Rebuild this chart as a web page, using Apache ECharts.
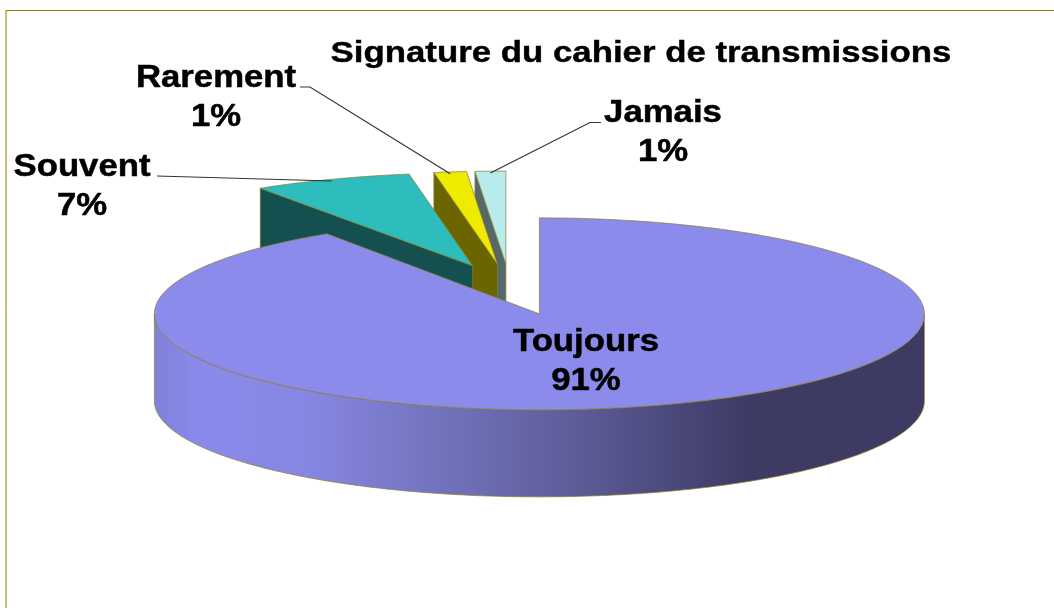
<!DOCTYPE html>
<html>
<head>
<meta charset="utf-8">
<style>
  html, body { margin: 0; padding: 0; background: #fff; }
  #chart { width: 1054px; height: 608px; }
</style>
<script src="https://cdn.jsdelivr.net/npm/echarts@6/dist/echarts.min.js"></script>
</head>
<body>
<div id="chart"></div>
<script>
const chartTitle = 'Signature du cahier de transmissions'
const categories = ['Toujours', 'Souvent', 'Rarement', 'Jamais']
const values = [90.7, 6.66, 1.36, 1.28]

const topColors = ['#8b8bec', '#2dbdbd', '#eeea00', '#b8ecec']
const wallColors = ['#3d3b63', '#155050', '#6b6500', '#55686c']
const labelPositions = [[586, 362], [82, 187], [216, 97.5], [663, 133]]
const leaderStarts = [null, [[157, 176]], [[300, 87], [310, 87]], [[601, 122.5], [590, 122.5]]]

// pie geometry, tilted disc
const cx = 510
const cy = 289.5
const rx = 385
const ry = 96
const smallRy = 93 // the pulled out wedges sit a bit flatter
const depth = 87
const explode = 0.265
const edgeColor = '#8a7d2a'
const fontFamily = '"Liberation Sans", Arial, sans-serif'

const total = values.reduce((a, b) => a + b, 0)
const angles = []
let acc = 0
values.forEach(v => {
  angles.push([acc / total * Math.PI * 2, (acc + v) / total * Math.PI * 2])
  acc += v
})

const rim = (a, ox, oy, h) => [ox + rx * Math.sin(a), oy - h * Math.cos(a)]
const shift = (p, dy) => [p[0], p[1] + dy]

const arcPoints = (a0, a1, ox, oy, h) => {
  const steps = Math.max(2, Math.ceil((a1 - a0) / 0.01))
  const pts = []
  for (let i = 0; i <= steps; i++) pts.push(rim(a0 + (a1 - a0) * i / steps, ox, oy, h))
  return pts
}

const poly = (points, fill) => ({
  type: 'polygon',
  shape: { points },
  style: { fill, stroke: edgeColor, lineWidth: 0.7 }
})

const wallGradient = new echarts.graphic.LinearGradient(153, 0, 923, 0, [
  { offset: 0, color: '#7f82d6' },
  { offset: 0.06, color: '#8a8aec' },
  { offset: 0.2, color: '#8687e2' },
  { offset: 0.38, color: '#7172bb' },
  { offset: 0.55, color: '#5d5c98' },
  { offset: 0.72, color: '#444270' },
  { offset: 0.78, color: '#3d3b63' },
  { offset: 1, color: '#3d3b63' }
], true)

const textEl = (text, x, y) => ({
  type: 'text',
  x,
  y,
  scaleX: 1.12,
  style: {
    text,
    fill: '#000',
    stroke: '#000',
    lineWidth: 0.5,
    font: 'bold 31px ' + fontFamily,
    align: 'center',
    verticalAlign: 'middle'
  }
})

const renderSlice = (params, api) => {
  const i = api.value(1)
  const [a0, a1] = angles[i]
  const mid = (a0 + a1) / 2
  const h = i === 0 ? ry : smallRy
  const ox = cx + explode * rx * Math.sin(mid)
  const oy = cy - explode * ry * Math.cos(mid)
  const apex = [ox, oy]
  const children = []

  // radial walls, only the ones facing the viewer
  ;[a0, a1].forEach((a, k) => {
    const facing = k === 0 ? Math.sin(a) < -1e-6 : Math.sin(a) > 1e-6
    if (!facing) return
    const p = rim(a, ox, oy, h)
    children.push(poly([apex, p, shift(p, depth), shift(apex, depth)], wallColors[i]))
  })

  // outer wall, front half of the disc
  const w0 = Math.max(a0, Math.PI / 2)
  const w1 = Math.min(a1, Math.PI * 1.5)
  if (w1 > w0) {
    const arc = arcPoints(w0, w1, ox, oy, h)
    children.push(poly(arc.concat(arc.map(p => shift(p, depth)).reverse()), wallGradient))
  }

  // top face
  children.push(poly([apex].concat(arcPoints(a0, a1, ox, oy, h)), topColors[i]))

  // leader line, lands just inside the wedge rim
  if (leaderStarts[i]) {
    const end = [
      cx + rx * (1 + explode) * Math.sin(mid),
      cy - ry * (1 + explode) * 0.96 * Math.cos(mid)
    ]
    children.push({
      type: 'polyline',
      shape: { points: leaderStarts[i].concat([end]) },
      style: { fill: null, stroke: '#333', lineWidth: 1.2 }
    })
  }

  // label
  const [lx, ly] = labelPositions[i]
  children.push(textEl(categories[i], lx, ly - 19.5))
  children.push(textEl(Math.round(api.value(0)) + '%', lx, ly + 19.5))

  return { type: 'group', children }
}

// back slices first so the big one covers them
const drawOrder = categories.map((_, i) => categories.length - 1 - i)

const chart = echarts.init(document.getElementById('chart'), null, { renderer: 'canvas' })
chart.setOption({
  animation: false,
  backgroundColor: '#fff',
  graphic: [
    {
      type: 'polyline',
      silent: true,
      shape: { points: [[6, 608], [6, 10.5], [1054, 10.5]] },
      style: { fill: null, stroke: '#8c7a00', lineWidth: 1 }
    },
    {
      type: 'text',
      x: 641,
      y: 53.5,
      scaleX: 1.16,
      silent: true,
      style: {
        text: chartTitle,
        fill: '#000',
        stroke: '#000',
        lineWidth: 0.4,
        font: 'bold 30px ' + fontFamily,
        align: 'center',
        verticalAlign: 'middle'
      }
    }
  ],
  series: [
    {
      type: 'custom',
      coordinateSystem: 'none',
      silent: true,
      renderItem: renderSlice,
      encode: { value: 0 },
      data: drawOrder.map(i => ({ name: categories[i], value: [values[i], i] }))
    }
  ]
})
</script>
</body>
</html>
